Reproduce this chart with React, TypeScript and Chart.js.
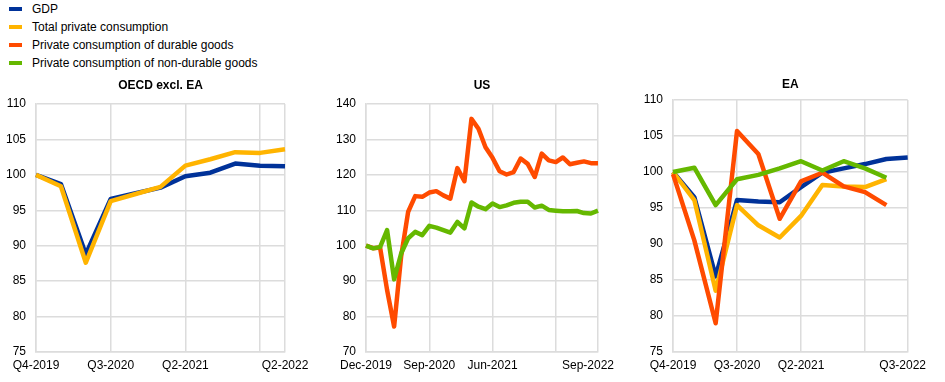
import React, { useEffect, useRef } from 'react';
import { Chart, registerables } from 'chart.js';

Chart.register(...registerables);

const FONT = "'Liberation Sans', Arial, Helvetica, sans-serif";
const GRID = '#dcdcdc';
const TEXT = '#000000';

const BLUE = '#003299';
const YELLOW = '#ffb400';
const RED = '#ff4b00';
const GREEN = '#65b800';

// ---------- legend ----------
const legendLabels = [
  'GDP',
  'Total private consumption',
  'Private consumption of durable goods',
  'Private consumption of non-durable goods',
];
const legendColors = [BLUE, YELLOW, RED, GREEN];

// ---------- OECD excl. EA (quarterly) ----------
const oecdQuarters = [
  'Q4-2019', 'Q1-2020', 'Q2-2020', 'Q3-2020', 'Q4-2020', 'Q1-2021',
  'Q2-2021', 'Q3-2021', 'Q4-2021', 'Q1-2022', 'Q2-2022',
];
const oecdTickLabels = ['Q4-2019', 'Q3-2020', 'Q2-2021', 'Q2-2022'];
const oecdGdp = [100.0, 98.7, 88.8, 96.6, 97.4, 98.2, 99.8, 100.3, 101.6, 101.3, 101.2];
const oecdConsumption = [100.0, 98.4, 87.6, 96.3, 97.3, 98.3, 101.3, 102.2, 103.2, 103.1, 103.6];

// ---------- US (monthly) ----------
const usMonths = [
  'Dec-2019',
  'Jan-2020', 'Feb-2020', 'Mar-2020', 'Apr-2020', 'May-2020', 'Jun-2020',
  'Jul-2020', 'Aug-2020', 'Sep-2020', 'Oct-2020', 'Nov-2020', 'Dec-2020',
  'Jan-2021', 'Feb-2021', 'Mar-2021', 'Apr-2021', 'May-2021', 'Jun-2021',
  'Jul-2021', 'Aug-2021', 'Sep-2021', 'Oct-2021', 'Nov-2021', 'Dec-2021',
  'Jan-2022', 'Feb-2022', 'Mar-2022', 'Apr-2022', 'May-2022', 'Jun-2022',
  'Jul-2022', 'Aug-2022', 'Sep-2022',
];
const usTickLabels = ['Dec-2019', 'Sep-2020', 'Jun-2021', 'Sep-2022'];
const usDurable = [
  100.0, 99.3, 99.5, 87.5, 77.2, 97.0, 109.6, 114.0, 113.8, 115.0, 115.4, 114.2,
  113.3, 121.9, 118.2, 135.8, 133.0, 127.8, 124.8, 121.0, 120.1, 120.8, 124.6, 123.1,
  119.4, 126.0, 124.1, 123.6, 124.9, 123.0, 123.4, 123.8, 123.3, 123.3,
];
const usNonDurable = [
  100.0, 99.25, 99.6, 104.4, 90.5, 97.8, 102.1, 103.9, 103.0, 105.6, 105.1, 104.4,
  103.7, 106.7, 104.9, 112.2, 111.0, 110.3, 111.9, 110.9, 111.4, 112.1, 112.4, 112.4,
  110.8, 111.3, 110.1, 109.9, 109.7, 109.7, 109.8, 109.2, 109.1, 109.9,
];

// ---------- EA (quarterly) ----------
const eaQuarters = [
  'Q4-2019', 'Q1-2020', 'Q2-2020', 'Q3-2020', 'Q4-2020', 'Q1-2021',
  'Q2-2021', 'Q3-2021', 'Q4-2021', 'Q1-2022', 'Q2-2022', 'Q3-2022',
];
const eaTickLabels = ['Q4-2019', 'Q3-2020', 'Q2-2021', 'Q3-2022'];
const eaGdp = [100.0, 96.5, 85.5, 96.1, 95.9, 95.8, 97.9, 99.9, 100.5, 101.1, 101.8, 102.0];
const eaConsumption = [100.0, 96.1, 83.5, 95.4, 92.6, 90.9, 93.9, 98.2, 98.0, 97.9, 99.0];
const eaDurable = [99.7, 90.5, 79.0, 105.7, 102.5, 93.5, 98.7, 99.9, 98.0, 97.2, 95.4];
const eaNonDurable = [100.0, 100.6, 95.4, 99.0, 99.6, 100.5, 101.5, 100.2, 101.5, 100.5, 99.2];

Chart.defaults.font.family = FONT;
Chart.defaults.font.size = 12;
Chart.defaults.color = TEXT;

type Series = { data: number[]; color: string; order: number };

type PanelSpec = {
  title: string;
  labels: string[];
  tickLabels: string[];
  gridStep: number;
  lastPad: string;
  series: Series[];
  yMin: number;
  yMax: number;
  yStep: number;
  axisWidth: number;
  padRight: number;
  titleTop: number;
  titleBottom: number;
};

function makeConfig(p: PanelSpec): any {
  const last = p.labels.length - 1;
  return {
    type: 'line',
    data: {
      labels: p.labels,
      datasets: p.series.map((s) => ({
        data: s.data,
        borderColor: s.color,
        backgroundColor: s.color,
        borderWidth: 4.5,
        pointRadius: 0,
        pointHoverRadius: 0,
        tension: 0,
        fill: false,
        borderJoinStyle: 'round',
        order: s.order,
      })),
    },
    options: {
      responsive: false,
      animation: false,
      events: [],
      layout: { padding: { left: 0, right: p.padRight, top: 0, bottom: 0 } },
      plugins: {
        legend: { display: false },
        tooltip: { enabled: false },
        title: {
          display: true,
          text: p.title,
          fullSize: false,
          color: TEXT,
          font: { family: FONT, size: 12, weight: 'bold' },
          padding: { top: p.titleTop, bottom: p.titleBottom },
        },
      },
      scales: {
        x: {
          type: 'category',
          offset: false,
          grid: {
            drawTicks: false,
            lineWidth: 1.5,
            color: (ctx: any) =>
              ctx.index % p.gridStep === 0 || ctx.index === last ? GRID : 'rgba(0,0,0,0)',
          },
          border: { color: GRID, width: 1.5 },
          ticks: {
            autoSkip: false,
            maxRotation: 0,
            minRotation: 0,
            padding: 6,
            color: TEXT,
            font: { family: FONT, size: 12 },
            callback: (_v: any, i: number) => {
              const l = p.labels[i];
              if (!p.tickLabels.includes(l)) return '';
              return i === last ? l + p.lastPad : l;
            },
          },
          afterFit: (scale: any) => {
            scale.height = 30;
          },
        },
        y: {
          min: p.yMin,
          max: p.yMax,
          grid: { drawTicks: false, color: GRID, lineWidth: 1.5 },
          border: { color: GRID, width: 1.5 },
          ticks: {
            stepSize: p.yStep,
            padding: 10,
            color: TEXT,
            font: { family: FONT, size: 12 },
          },
          afterFit: (scale: any) => {
            scale.width = p.axisWidth;
          },
        },
      },
    },
  };
}

const oecdSpec: PanelSpec = {
  title: 'OECD excl. EA',
  labels: oecdQuarters,
  tickLabels: oecdTickLabels,
  gridStep: 3,
  lastPad: '',
  series: [
    { data: oecdGdp, color: BLUE, order: 2 },
    { data: oecdConsumption, color: YELLOW, order: 1 },
  ],
  yMin: 75,
  yMax: 110,
  yStep: 5,
  axisWidth: 36,
  padRight: 35,
  titleTop: 3.8,
  titleBottom: 10.8,
};

const usSpec: PanelSpec = {
  title: 'US',
  labels: usMonths,
  tickLabels: usTickLabels,
  gridStep: 9,
  lastPad: '      ',
  series: [
    { data: usDurable, color: RED, order: 2 },
    { data: usNonDurable, color: GREEN, order: 1 },
  ],
  yMin: 70,
  yMax: 140,
  yStep: 10,
  axisWidth: 56,
  padRight: 39.3,
  titleTop: 3.8,
  titleBottom: 10.8,
};

const eaSpec: PanelSpec = {
  title: 'EA',
  labels: eaQuarters,
  tickLabels: eaTickLabels,
  gridStep: 3,
  lastPad: '   ',
  series: [
    { data: eaGdp, color: BLUE, order: 4 },
    { data: eaConsumption, color: YELLOW, order: 3 },
    { data: eaDurable, color: RED, order: 2 },
    { data: eaNonDurable, color: GREEN, order: 1 },
  ],
  yMin: 75,
  yMax: 110,
  yStep: 5,
  axisWidth: 53,
  padRight: 37.3,
  titleTop: 2.8,
  titleBottom: 7.8,
};

function Panel(props: { spec: PanelSpec; left: number; top: number; width: number; height: number }) {
  const ref = useRef<HTMLCanvasElement | null>(null);
  useEffect(() => {
    if (!ref.current) return;
    const chart = new Chart(ref.current, makeConfig(props.spec));
    return () => chart.destroy();
  }, []);
  return (
    <canvas
      ref={ref}
      width={props.width}
      height={props.height}
      style={{
        position: 'absolute',
        left: props.left,
        top: props.top,
        width: props.width,
        height: props.height,
      }}
    />
  );
}

export default function App() {
  return (
    <div
      style={{
        position: 'absolute',
        left: 0,
        top: 0,
        width: 945,
        height: 382,
        background: '#ffffff',
        overflow: 'hidden',
        fontFamily: FONT,
      }}
    >
      {legendLabels.map((label, i) => (
        <div
          key={label}
          style={{ position: 'absolute', left: 0, top: i * 18, height: 18, width: 400 }}
        >
          <span
            style={{
              position: 'absolute',
              left: 9,
              top: 7,
              width: 13,
              height: 4,
              background: legendColors[i],
            }}
          />
          <span
            style={{
              position: 'absolute',
              left: 32,
              top: 0,
              lineHeight: '18px',
              fontSize: 12,
              color: TEXT,
              whiteSpace: 'nowrap',
            }}
          >
            {label}
          </span>
        </div>
      ))}
      <Panel spec={oecdSpec} left={0} top={75} width={320} height={307} />
      <Panel spec={usSpec} left={310} top={75} width={330} height={307} />
      <Panel spec={eaSpec} left={620} top={75} width={325} height={307} />
    </div>
  );
}
